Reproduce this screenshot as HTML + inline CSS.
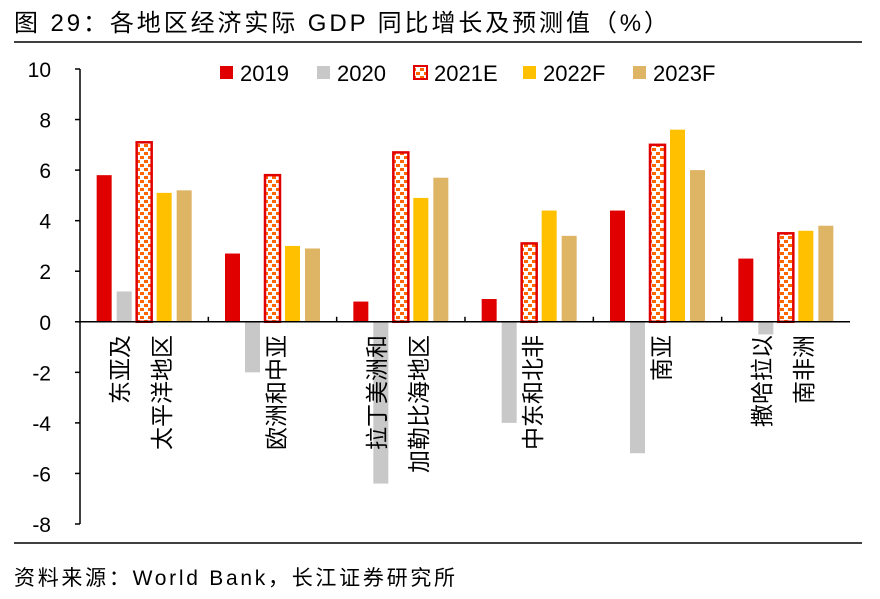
<!DOCTYPE html>
<html><head><meta charset="utf-8"><style>
body{margin:0;background:#fff;width:880px;height:594px;overflow:hidden;font-family:"Liberation Sans","Noto Sans CJK SC",sans-serif}
</style></head><body>
<svg id="chart" width="880" height="594" font-family="Liberation Sans, Noto Sans CJK SC, sans-serif">
<defs>
<pattern id="pat" width="8" height="8" patternUnits="userSpaceOnUse">
<rect width="8" height="8" fill="#fff"/>
<rect x="0" y="0" width="4" height="3" fill="#ff6600"/>
<rect x="4" y="4" width="4" height="3" fill="#ff6600"/>
</pattern>
</defs>
<text x="14" y="31" font-size="24" textLength="654" lengthAdjust="spacing" fill="#000">图 29：各地区经济实际 GDP 同比增长及预测值（%）</text>
<line x1="14" y1="42" x2="862" y2="42" stroke="#000" stroke-width="1.5"/>
<line x1="14" y1="543" x2="862" y2="543" stroke="#000" stroke-width="1.5"/>
<text x="14" y="585" font-size="21" textLength="441" lengthAdjust="spacing" fill="#000">资料来源：World Bank，长江证券研究所</text>
<g id="plot"></g>
</svg>
<script>
const categories=[["东亚及","太平洋地区"],["欧洲和中亚"],["拉丁美洲和","加勒比海地区"],["中东和北非"],["南亚"],["撒哈拉以","南非洲"]];
const seriesNames=["2019","2020","2021E","2022F","2023F"];
const s2019=[5.8,2.7,0.8,0.9,4.4,2.5];
const s2020=[1.2,-2.0,-6.4,-4.0,-5.2,-0.5];
const s2021=[7.1,5.8,6.7,3.1,7.0,3.5];
const s2022=[5.1,3.0,4.9,4.4,7.6,3.6];
const s2023=[5.2,2.9,5.7,3.4,6.0,3.8];
const yTicks=[10,8,6,4,2,0,-2,-4,-6,-8];
const series=[s2019,s2020,s2021,s2022,s2023];
const colors=["#e00000","#c8c8c8","url(#pat)","#ffc000","#deb465"];
const NS="http://www.w3.org/2000/svg";
const g=document.getElementById('plot');
const x0=80,x1=850,yTop=69,yBot=524,yMax=10,yMin=-8;
const y=v=>yTop+(yMax-v)/(yMax-yMin)*(yBot-yTop);
const gw=(x1-x0)/categories.length;
function mk(t,a){const e=document.createElementNS(NS,t);for(const k in a)e.setAttribute(k,a[k]);g.appendChild(e);return e;}
let e=mk('line',{x1:x0,y1:yTop,x2:x0,y2:yBot,stroke:'#000','stroke-width':1.5});


yTicks.forEach(t=>{
 let l=mk('line',{x1:x0-5,y1:y(t),x2:x0,y2:y(t),stroke:'#000','stroke-width':1.5});
 
 
 let tx=mk('text',{x:51,y:y(t)+8,'font-size':21,'text-anchor':'end'});tx.textContent=t;
 
 
});
const bw=15,pitch=20;
categories.forEach((c,i)=>{
 const cx=x0+gw*(i+0.5);
 series.forEach((s,j)=>{
  const v=s[i];const bx=cx+(j-2)*pitch-bw/2;
  const top=Math.min(y(v),y(0)),h=Math.abs(y(v)-y(0));
  let r=mk('rect',{x:bx,y:top,width:bw,height:h,fill:colors[j]});
  if(j==2){r.setAttribute('stroke','#e00000');r.setAttribute('stroke-width','2.5');}
  
  
 });
 const n=c.length;
 c.forEach((line,k)=>{
  const lx=n==1?cx+4:cx-24+k*42;
  let t=mk('text',{x:0,y:0,'font-size':23,'text-anchor':'end',transform:`translate(${lx+8},${335}) rotate(-90)`});
  t.textContent=line;
  
  
 });
});
e=mk('line',{x1:x0,y1:y(0),x2:x1,y2:y(0),stroke:'#000','stroke-width':1.5});


for(let i=1;i<categories.length;i++){
 let l=mk('line',{x1:x0+gw*i,y1:y(0)-5,x2:x0+gw*i,y2:y(0),stroke:'#000','stroke-width':1.5});
 
 
}
const legX=[220,317,414,523,633];
seriesNames.forEach((nm,j)=>{
 let r=mk('rect',{x:legX[j],y:66,width:13,height:13,fill:colors[j]});
 if(j==2){r.setAttribute('stroke','#e00000');r.setAttribute('stroke-width','2');}
 
 
 let t=mk('text',{x:legX[j]+20,y:81,'font-size':22});t.textContent=nm;
 
 
});
</script>
</body></html>
